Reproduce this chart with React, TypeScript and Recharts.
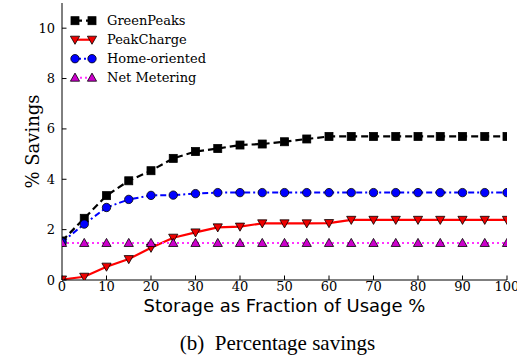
import React from "react";
import { LineChart, Line, XAxis, YAxis } from "recharts";

const storagePct = [0, 5, 10, 15, 20, 25, 30, 35, 40, 45, 50, 55, 60, 65, 70, 75, 80, 85, 90, 95, 100];
const greenPeaks = [1.55, 2.45, 3.35, 3.94, 4.34, 4.83, 5.1, 5.22, 5.36, 5.4, 5.49, 5.6, 5.7, 5.7, 5.7, 5.7, 5.7, 5.7, 5.7, 5.7, 5.7];
const peakCharge = [0.02, 0.13, 0.53, 0.83, 1.28, 1.68, 1.89, 2.09, 2.12, 2.25, 2.25, 2.25, 2.26, 2.39, 2.39, 2.39, 2.39, 2.39, 2.39, 2.39, 2.39];
const homeOriented = [1.5, 2.22, 2.88, 3.2, 3.36, 3.37, 3.43, 3.47, 3.47, 3.47, 3.47, 3.47, 3.47, 3.47, 3.47, 3.47, 3.47, 3.47, 3.47, 3.47, 3.47];
const netMetering = [1.47, 1.47, 1.47, 1.47, 1.47, 1.47, 1.47, 1.47, 1.47, 1.47, 1.47, 1.47, 1.47, 1.47, 1.47, 1.47, 1.47, 1.47, 1.47, 1.47, 1.47];

const xTicks = [0, 10, 20, 30, 40, 50, 60, 70, 80, 90, 100];
const yTicks = [0, 2, 4, 6, 8, 10];

const xLabel = "Storage as Fraction of Usage %";
const yLabel = "% Savings";
const caption = "(b)\u00a0 Percentage savings";

const data = storagePct.map((s, i) => ({
  s,
  greenPeaks: greenPeaks[i],
  peakCharge: peakCharge[i],
  homeOriented: homeOriented[i],
  netMetering: netMetering[i],
}));

type Shape = "square" | "triDown" | "circle" | "triUp";

const series: { key: string; name: string; line: string; fill: string; dash?: string; width: number; shape: Shape }[] = [
  { key: "greenPeaks", name: "GreenPeaks", line: "#000000", fill: "#000000", dash: "7 4", width: 2.2, shape: "square" },
  { key: "peakCharge", name: "PeakCharge", line: "#ff0000", fill: "#ee0000", width: 2.2, shape: "triDown" },
  { key: "homeOriented", name: "Home-oriented", line: "#0000ff", fill: "#0000ff", dash: "6 3 2 3", width: 2, shape: "circle" },
  { key: "netMetering", name: "Net Metering", line: "#ff33ff", fill: "#cc00cc", dash: "2 3", width: 2, shape: "triUp" },
];

function Marker({ cx, cy, shape, fill }: { cx: number; cy: number; shape: Shape; fill: string }) {
  if (cx == null || cy == null || isNaN(cx) || isNaN(cy)) return null;
  const edge = "#000";
  if (shape === "square") {
    return <rect x={cx - 4} y={cy - 4} width={8} height={8} fill={fill} stroke={edge} strokeWidth={0.8} />;
  }
  if (shape === "circle") {
    return <circle cx={cx} cy={cy} r={4.2} fill={fill} stroke={edge} strokeWidth={0.8} />;
  }
  if (shape === "triDown") {
    return (
      <path
        d={`M${cx - 4.6},${cy - 3.5} L${cx + 4.6},${cy - 3.5} L${cx},${cy + 4.6} Z`}
        fill={fill}
        stroke={edge}
        strokeWidth={0.8}
      />
    );
  }
  return (
    <path
      d={`M${cx - 4.6},${cy + 3.5} L${cx + 4.6},${cy + 3.5} L${cx},${cy - 4.6} Z`}
      fill={fill}
      stroke={edge}
      strokeWidth={0.8}
    />
  );
}

const SERIF = "'DejaVu Serif', serif";
const TL = 4.5;

const BottomTick = (props: any) => {
  const { x, y, payload } = props;
  return (
    <g>
      <line x1={x} y1={y} x2={x} y2={y - TL} stroke="#000" strokeWidth={1} />
      <text x={x} y={y + 11} textAnchor="middle" fontSize={13} fill="#000" fontFamily={SERIF}>
        {payload.value}
      </text>
    </g>
  );
};

const TopTick = (props: any) => {
  const { x, y } = props;
  return <line x1={x} y1={y} x2={x} y2={y + TL} stroke="#000" strokeWidth={1} />;
};

const LeftTick = (props: any) => {
  const { x, y, payload } = props;
  return (
    <g>
      <line x1={x} y1={y} x2={x + TL} y2={y} stroke="#000" strokeWidth={1} />
      <text x={x - 7} y={y + 4.5} textAnchor="end" fontSize={13} fill="#000" fontFamily={SERIF}>
        {payload.value}
      </text>
    </g>
  );
};

const RightTick = (props: any) => {
  const { x, y } = props;
  return <line x1={x} y1={y} x2={x - TL} y2={y} stroke="#000" strokeWidth={1} />;
};

export default function App() {
  return (
    <div style={{ position: "absolute", left: 0, top: 0, width: 517, height: 356, background: "#fff" }}>
      <LineChart width={517} height={356} data={data} margin={{ top: 3, right: 10, bottom: 46, left: 0 }}>
        <XAxis
          xAxisId="b"
          dataKey="s"
          type="number"
          domain={[0, 100]}
          ticks={xTicks}
          interval={0}
          height={30}
          tickSize={0}
          tickMargin={0}
          tick={<BottomTick />}
          axisLine={{ stroke: "#000", strokeWidth: 1 }}
          allowDataOverflow
        />
        <XAxis
          xAxisId="t"
          orientation="top"
          dataKey="s"
          type="number"
          domain={[0, 100]}
          ticks={xTicks}
          interval={0}
          height={0}
          tickSize={0}
          tickMargin={0}
          tick={<TopTick />}
          axisLine={{ stroke: "#000", strokeWidth: 1 }}
          allowDataOverflow
        />
        <YAxis
          yAxisId="l"
          type="number"
          domain={[0, 11]}
          ticks={yTicks}
          interval={0}
          width={62}
          tickSize={0}
          tickMargin={0}
          tick={<LeftTick />}
          axisLine={{ stroke: "#000", strokeWidth: 1 }}
          allowDataOverflow
        />
        <YAxis
          yAxisId="r"
          orientation="right"
          type="number"
          domain={[0, 11]}
          ticks={yTicks}
          interval={0}
          width={0}
          tickSize={0}
          tickMargin={0}
          tick={<RightTick />}
          axisLine={{ stroke: "#555", strokeWidth: 1.5 }}
          allowDataOverflow
        />
        {series.map((s) => (
          <Line
            key={s.key}
            xAxisId="b"
            yAxisId="l"
            type="linear"
            dataKey={s.key}
            name={s.name}
            stroke={s.line}
            strokeWidth={s.width}
            strokeDasharray={s.dash}
            isAnimationActive={false}
            dot={(p: any) => <Marker key={`${s.key}-${p.index}`} cx={p.cx} cy={p.cy} shape={s.shape} fill={s.fill} />}
            activeDot={false}
          />
        ))}
      </LineChart>
      <svg width={517} height={356} style={{ position: "absolute", left: 0, top: 0, pointerEvents: "none" }}>
        {series.map((s, i) => {
          const cy = 20.7 + i * 19;
          return (
            <g key={s.key}>
              <line x1={75} y1={cy} x2={92} y2={cy} stroke={s.line} strokeWidth={s.width} strokeDasharray={s.dash} />
              <Marker cx={75} cy={cy} shape={s.shape} fill={s.fill} />
              <Marker cx={92} cy={cy} shape={s.shape} fill={s.fill} />
              <text x={107} y={cy + 4.5} fontSize={13} fill="#000" fontFamily={SERIF}>
                {s.name}
              </text>
            </g>
          );
        })}
        <text x={284.5} y={312} textAnchor="middle" fontSize={18} fill="#000" fontFamily="'DejaVu Sans', sans-serif">
          {xLabel}
        </text>
        <text
          x={0}
          y={0}
          transform="translate(39,141.5) rotate(-90)"
          textAnchor="middle"
          fontSize={18}
          fill="#000"
          fontFamily={SERIF}
        >
          {yLabel}
        </text>
        <text x={277.5} y={350} textAnchor="middle" fontSize={21} fill="#000" fontFamily="'Liberation Serif', serif">
          {caption}
        </text>
      </svg>
    </div>
  );
}
